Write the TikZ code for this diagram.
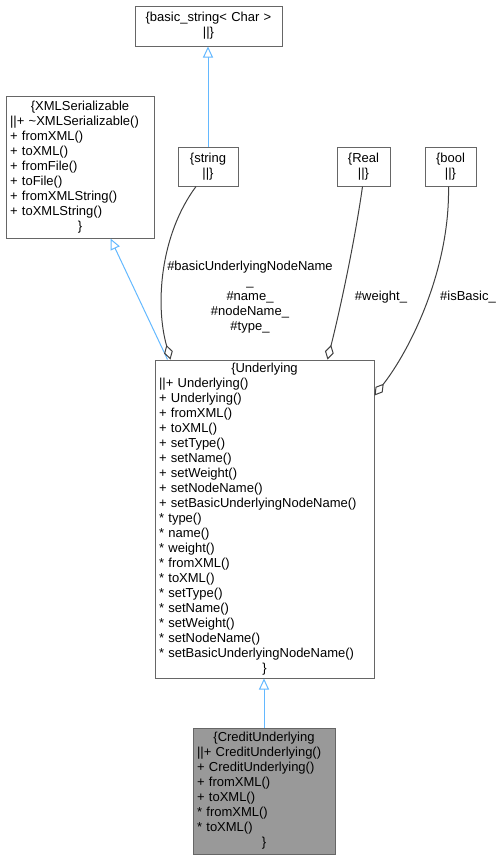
\documentclass[tikz,border=0pt]{standalone}
\usepackage{fontspec}
\setmainfont{Liberation Sans}
\usetikzlibrary{arrows.meta,calc}
\definecolor{boxline}{HTML}{666666}
\definecolor{inhcol}{HTML}{63B8FF}
\definecolor{assoccol}{HTML}{404040}
\definecolor{cufill}{HTML}{999999}
\newcommand\ctrline[1]{\leavevmode\hbox to\hsize{\hss#1\hss}}
\begin{document}
\begin{tikzpicture}[x=1pt,y=-1pt,
  cls/.style={draw=boxline, line width=1pt, fill=white, anchor=north west,
    inner xsep=4pt, inner ysep=0pt, align=left,
    font=\fontsize{13}{15}\selectfont},
  ctr/.style={cls, align=center},
  lbl/.style={align=center, inner sep=0pt, font=\fontsize{13}{15}\selectfont},
  inhline/.style={draw=inhcol, line width=1pt, -{Triangle[length=11pt,width=10pt,fill=white]}},
  assocline/.style={draw=assoccol, line width=1pt, -{Diamond[length=15pt,width=9pt,fill=white]}}]
\useasboundingbox (0,0) rectangle (503,860);

\node[ctr, text width=139pt, minimum height=40pt] (bs) at (134.5,5.5)
  {\{basic\_string< Char >\\||\}};
\node[cls, text width=140pt, minimum height=142pt] (xml) at (5.5,95.5)
  {\ctrline{\{XMLSerializable}\\
   ||+ \textasciitilde XMLSerializable()\\
   + fromXML()\\
   + toXML()\\
   + fromFile()\\
   + toFile()\\
   + fromXMLString()\\
   + toXMLString()\\
   \ctrline{\}}};
\node[ctr, text width=52pt, minimum height=39pt] (str) at (177.5,146.5) {\{string\\||\}};
\node[ctr, text width=45pt, minimum height=39pt] (real) at (336.5,146.5) {\{Real\\||\}};
\node[ctr, text width=43pt, minimum height=39pt] (bool) at (424.5,146.5) {\{bool\\||\}};

\node[cls, text width=211pt, minimum height=318pt] (und) at (154.5,359.5)
  {\ctrline{\{Underlying}\\
   ||+ Underlying()\\
   + Underlying()\\
   + fromXML()\\
   + toXML()\\
   + setType()\\
   + setName()\\
   + setWeight()\\
   + setNodeName()\\
   + setBasicUnderlyingNodeName()\\
   {*} type()\\
   {*} name()\\
   {*} weight()\\
   {*} fromXML()\\
   {*} toXML()\\
   {*} setType()\\
   {*} setName()\\
   {*} setWeight()\\
   {*} setNodeName()\\
   {*} setBasicUnderlyingNodeName()\\
   \ctrline{\}}};

\node[cls, fill=cufill, text width=134pt, minimum height=126pt] (cu) at (192.5,727.5)
  {\ctrline{\{CreditUnderlying}\\
   ||+ CreditUnderlying()\\
   + CreditUnderlying()\\
   + fromXML()\\
   + toXML()\\
   {*} fromXML()\\
   {*} toXML()\\
   \ctrline{\}}};

% inheritance
\draw[inhline] (str.north) -- (str.north |- bs.south);
\draw[inhline] ($(und.north west)+(13,0)$) -- ($(xml.south west)+(105,0)$);
\draw[inhline] (cu.north) -- (cu.north |- und.south);

% associations
\draw[assocline] ($(str.south)+(-12,0)$) .. controls (160,235) and (155,305) .. ($(und.north west)+(16,0)$);
\draw[assocline] ($(real.south)+(-1,0)$) .. controls (355,240) and (340,310) .. ($(und.north west)+(173,0)$);
\draw[assocline] ($(bool.south)+(-2,0)$) .. controls (450,270) and (410,350) .. ($(und.north east)+(0,36)$);

\node[lbl] (l1) at (250,297) {\#basicUnderlyingNodeName\\\_\\\#name\_\\\#nodeName\_\\\#type\_};
\node[lbl] (l2) at (381,297) {\#weight\_};
\node[lbl] (l3) at (468,297) {\#isBasic\_};
\end{tikzpicture}
\end{document}
